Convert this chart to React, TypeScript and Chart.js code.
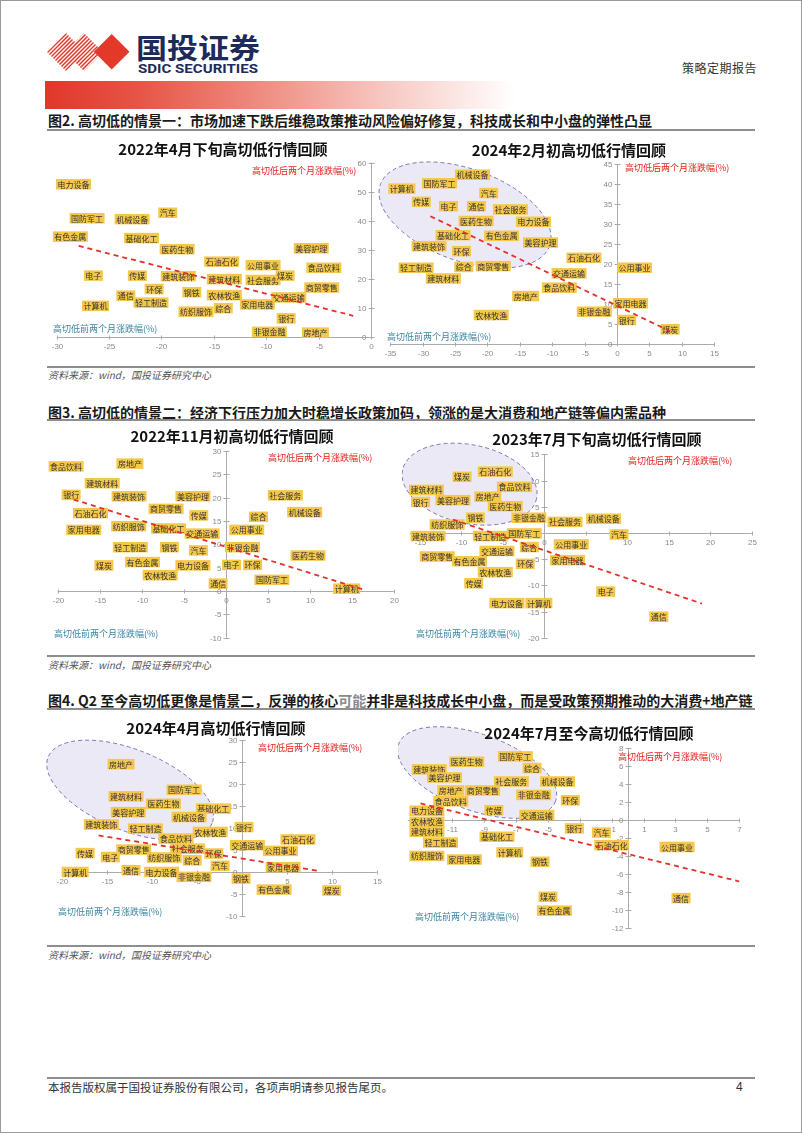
import React, { useEffect, useRef } from 'react';
import { Chart, registerables } from 'chart.js';

Chart.register(...registerables);

// ---------------- Chart 1: 2022年4月下旬 ----------------
const c1Names = ['电力设备','国防军工','机械设备','汽车','有色金属','基础化工','医药生物','美容护理','石油石化','公用事业','食品饮料','电子','传媒','建筑装饰','建筑材料','社会服务','煤炭','商贸零售','环保','钢铁','农林牧渔','通信','交通运输','计算机','轻工制造','纺织服饰','综合','家用电器','银行','非银金融','房地产'];
const c1X = [-28.4,-27.1,-22.8,-19.4,-28.7,-21.9,-18.5,-5.7,-14.25,-10.3,-4.5,-26.5,-22.3,-18.4,-14.0,-10.3,-8.2,-4.7,-20.7,-17.1,-14.0,-23.4,-7.85,-26.3,-21.0,-16.7,-14.1,-10.85,-8.1,-9.7,-5.3];
const c1Y = [52.6,40.9,40.6,42.8,34.6,34.1,30.3,30.6,26.0,24.8,23.9,21.2,21.2,21.0,20.0,19.7,21.2,17.1,16.6,15.5,14.5,14.3,13.7,10.8,11.9,8.8,10.0,11.3,6.5,1.9,1.6];
const c1TrendX = [-27.9, -1.7];
const c1TrendY = [31.4, 7.4];
const c1XTicks = [-30,-25,-20,-15,-10,-5,0];
const c1YTicks = [0,10,20,30,40,50,60];

// ---------------- Chart 2: 2024年2月初 ----------------
const c2Names = ['计算机','国防军工','机械设备','传媒','汽车','电子','通信','社会服务','医药生物','电力设备','基础化工','有色金属','美容护理','建筑装饰','环保','石油石化','综合','商贸零售','公用事业','轻工制造','交通运输','建筑材料','食品饮料','房地产','家用电器','非银金融','银行','农林牧渔','煤炭'];
const c2X = [-33.2,-27.4,-22.3,-30.2,-19.8,-26.0,-21.7,-16.45,-21.75,-12.9,-25.3,-17.8,-11.8,-29.0,-24.0,-5.1,-23.65,-19.1,2.7,-31.0,-7.4,-26.8,-8.9,-14.1,2.1,-3.5,1.5,-19.4,8.2];
const c2Y = [38.9,40.25,42.4,35.6,37.8,34.5,34.5,33.7,30.8,30.6,27.25,27.1,25.4,24.5,23.25,21.6,19.3,19.5,19.1,19.1,17.7,16.4,14.1,12.0,10.2,8.1,6.0,7.25,3.7];
const c2TrendX = [-28.8, 8.7];
const c2TrendY = [32.0, 2.8];
const c2XTicks = [-35,-30,-25,-20,-15,-10,-5,0,5,10,15];
const c2YTicks = [0,5,10,15,20,25,30,35,40,45];

// ---------------- Chart 3: 2022年11月初 ----------------
const c3Names = ['食品饮料','房地产','建筑材料','银行','建筑装饰','美容护理','社会服务','商贸零售','石油石化','传媒','综合','机械设备','家用电器','纺织服饰','基础化工','交通运输','公用事业','轻工制造','钢铁','汽车','非银金融','医药生物','煤炭','有色金属','电力设备','电子','环保','农林牧渔','通信','国防军工','计算机'];
const c3X = [-19.0,-11.4,-14.7,-18.4,-11.5,-3.9,7.1,-7.1,-16.1,-3.2,3.9,9.4,-16.9,-11.55,-6.8,-2.8,2.5,-11.35,-6.7,-3.25,2.0,9.8,-14.5,-9.9,-3.9,0.7,3.2,-7.8,-0.9,5.5,14.4];
const c3Y = [26.7,27.3,23.1,20.6,20.3,20.3,20.5,17.6,16.7,16.2,15.9,16.9,13.1,13.9,13.4,12.3,13.1,9.4,9.4,8.7,9.4,7.6,5.5,6.2,5.5,5.6,5.6,3.4,1.6,2.4,0.5];
const c3TrendX = [-18.1, 16.4];
const c3TrendY = [19.6, 0.3];
const c3XTicks = [-20,-15,-10,-5,0,5,10,15,20];
const c3YTicks = [-10,-5,0,5,10,15,20,25,30];

// ---------------- Chart 4: 2023年7月下旬 ----------------
const c4Names = ['煤炭','石油石化','食品饮料','建筑材料','银行','美容护理','房地产','医药生物','钢铁','非银金融','社会服务','机械设备','纺织服饰','建筑装饰','轻工制造','国防军工','汽车','综合','公用事业','交通运输','商贸零售','有色金属','环保','家用电器','农林牧渔','传媒','电子','电力设备','计算机','通信'];
const c4X = [-9.9,-5.9,-3.6,-14.2,-14.9,-11.0,-6.8,-4.7,-8.3,-1.85,2.5,7.15,-11.7,-14.0,-6.5,-2.4,9.0,-1.8,3.25,-5.7,-12.9,-9.0,-2.3,2.8,-5.9,-8.5,7.4,-4.5,-0.65,13.8];
const c4Y = [10.7,11.7,8.8,8.2,5.9,6.25,6.9,5.1,2.9,2.9,2.1,2.7,1.6,-0.6,-0.6,-0.1,-0.3,-2.7,-2.2,-3.45,-4.5,-5.4,-5.9,-5.2,-7.5,-9.6,-11.2,-13.4,-13.4,-16.0];
const c4TrendX = [-11.0, 19.0];
const c4TrendY = [2.55, -13.5];
const c4XTicks = [-15,-10,-5,0,5,10,15,20,25];
const c4YTicks = [-20,-15,-10,-5,0,5,10,15];

// ---------------- Chart 5: 2024年4月 ----------------
const c5Names = ['房地产','国防军工','建筑材料','医药生物','基础化工','美容护理','机械设备','建筑装饰','轻工制造','银行','农林牧渔','食品饮料','石油石化','交通运输','公用事业','商贸零售','社会服务','环保','传媒','电子','纺织服饰','综合','汽车','家用电器','计算机','通信','电力设备','非银金融','钢铁','有色金属','煤炭'];
const c5X = [-13.4,-6.4,-12.85,-8.7,-3.15,-12.6,-5.85,-15.6,-10.7,0.26,-3.5,-7.3,6.25,0.63,4.3,-12.0,-6.0,-3.1,-17.4,-14.6,-8.6,-5.5,-2.4,4.6,-18.5,-12.3,-8.9,-5.3,-0.07,3.6,10.0];
const c5Y = [24.5,18.7,17.2,15.5,14.4,13.6,12.5,10.8,9.85,10.2,9.1,7.6,7.4,6.1,4.8,5.1,5.3,4.2,4.3,3.4,3.3,2.65,1.4,1.1,0,0.4,0,-1.1,-1.5,-4.0,-4.2];
const c5TrendX = [-15.9, 8.7];
const c5TrendY = [8.3, 0.2];
const c5XTicks = [-20,-15,-10,-5,0,5,10,15];
const c5YTicks = [-10,-5,0,5,10,15,20,25,30];

// ---------------- Chart 6: 2024年7月至今 ----------------
const c6Names = ['国防军工','医药生物','综合','建筑装饰','美容护理','社会服务','机械设备','房地产','商贸零售','非银金融','食品饮料','环保','传媒','电力设备','交通运输','农林牧渔','银行','汽车','建筑材料','基础化工','轻工制造','石油石化','公用事业','纺织服饰','家用电器','计算机','钢铁','煤炭','有色金属','通信'];
const c6X = [-7.05,-10.1,-6.0,-12.45,-11.5,-7.3,-4.4,-11.1,-9.1,-5.9,-11.1,-3.6,-8.4,-12.6,-5.7,-12.6,-3.35,-1.65,-12.6,-8.2,-11.75,-1.0,3.1,-12.6,-10.25,-7.4,-5.5,-5.0,-4.6,3.35];
const c6Y = [7.1,6.5,5.8,5.65,4.75,4.3,4.3,3.3,3.3,2.8,2.1,2.2,1.1,1.04,0.56,-0.19,-0.93,-1.4,-1.3,-1.86,-2.5,-2.8,-3.0,-4.0,-4.4,-3.6,-4.65,-8.55,-10.1,-8.7];
const c6TrendX = [-13.0, 7.15];
const c6TrendY = [1.86, -6.9];
const c6XTicks = [-13,-11,-9,-7,-5,-3,-1,1,3,5,7];
const c6YTicks = [-12,-10,-8,-6,-4,-2,0,2,4,6,8];

const RED_TITLE = '高切低后两个月涨跌幅(%)';
const TEAL_TITLE = '高切低前两个月涨跌幅(%)';
const CJK = '"Noto Sans CJK SC", "Noto Sans", sans-serif';

const panels: any[] = [
  {
    title: '2022年4月下旬高切低行情回顾', titleX: 223, titleY: 149,
    box: { l: 40, t: 137, w: 338, h: 222 }, plot: { l: 56.7, r: 371, t: 162.7, b: 337.3 },
    xr: [-30, 0], yr: [0, 60],
    names: c1Names, xs: c1X, ys: c1Y, tx: c1TrendX, ty: c1TrendY, xt: c1XTicks, yt: c1YTicks,
    red: { x: 252, y: 171 }, teal: { x: 53, y: 329 },
  },
  {
    title: '2024年2月初高切低行情回顾', titleX: 569, titleY: 150,
    box: { l: 376, t: 137, w: 356, h: 222 }, plot: { l: 390.2, r: 714.2, t: 164.3, b: 344 },
    xr: [-35, 15], yr: [0, 45],
    names: c2Names, xs: c2X, ys: c2Y, tx: c2TrendX, ty: c2TrendY, xt: c2XTicks, yt: c2YTicks,
    red: { x: 625, y: 168 }, teal: { x: 387, y: 337 },
    ellipse: { x: -23.45, y: 32.3, rx: 90, ry: 46, rot: 20 },
  },
  {
    title: '2022年11月初高切低行情回顾', titleX: 232, titleY: 436,
    box: { l: 40, t: 427, w: 362, h: 225 }, plot: { l: 57.7, r: 393.7, t: 451, b: 637.7 },
    xr: [-20, 20], yr: [-10, 30],
    names: c3Names, xs: c3X, ys: c3Y, tx: c3TrendX, ty: c3TrendY, xt: c3XTicks, yt: c3YTicks,
    red: { x: 268, y: 458 }, teal: { x: 54, y: 634 },
  },
  {
    title: '2023年7月下旬高切低行情回顾', titleX: 597, titleY: 439,
    box: { l: 402, t: 427, w: 358, h: 225 }, plot: { l: 409.8, r: 751.8, t: 454.3, b: 637.7 },
    xr: [-16.2, 25], yr: [-20, 15],
    names: c4Names, xs: c4X, ys: c4Y, tx: c4TrendX, ty: c4TrendY, xt: c4XTicks, yt: c4YTicks,
    red: { x: 628, y: 461 }, teal: { x: 416, y: 634 },
    ellipse: { x: -9.0, y: 9.3, rx: 68.5, ry: 39.3, rot: 12 },
  },
  {
    title: '2024年4月高切低行情回顾', titleX: 216, titleY: 728,
    box: { l: 40, t: 717, w: 362, h: 225 }, plot: { l: 61.7, r: 376.7, t: 740, b: 916 },
    xr: [-20, 15], yr: [-10, 30],
    names: c5Names, xs: c5X, ys: c5Y, tx: c5TrendX, ty: c5TrendY, xt: c5XTicks, yt: c5YTicks,
    red: { x: 258, y: 748 }, teal: { x: 58, y: 912 },
    ellipse: { x: -12.4, y: 18.6, rx: 88.4, ry: 40.4, rot: 22 },
  },
  {
    title: '2024年7月至今高切低行情回顾', titleX: 589, titleY: 733,
    box: { l: 398, t: 717, w: 362, h: 225 }, plot: { l: 407.8, r: 739.2, t: 748.3, b: 927.7 },
    xr: [-13.8, 7], yr: [-12, 8],
    names: c6Names, xs: c6X, ys: c6Y, tx: c6TrendX, ty: c6TrendY, xt: c6XTicks, yt: c6YTicks,
    red: { x: 618, y: 757 }, teal: { x: 415, y: 917 },
    ellipse: { x: -9.45, y: 5.3, rx: 83.5, ry: 38.1, rot: 20 },
  },
];

function Panel({ cfg }: { cfg: any }) {
  const ref = useRef<HTMLCanvasElement>(null);
  useEffect(() => {
    const c = cfg;
    const pad = {
      left: c.plot.l - c.box.l,
      right: c.box.l + c.box.w - c.plot.r,
      top: c.plot.t - c.box.t,
      bottom: c.box.t + c.box.h - c.plot.b,
    };
    const deco = {
      id: 'deco',
      beforeDatasetsDraw(chart: any) {
        const ctx = chart.ctx;
        const sx = chart.scales.x;
        const sy = chart.scales.y;
        ctx.save();
        if (c.ellipse) {
          const e = c.ellipse;
          const cx = sx.getPixelForValue(e.x);
          const cy = sy.getPixelForValue(e.y);
          ctx.beginPath();
          ctx.ellipse(cx, cy, e.rx, e.ry, (e.rot * Math.PI) / 180, 0, Math.PI * 2);
          ctx.fillStyle = 'rgba(222,218,240,0.6)';
          ctx.fill();
          ctx.setLineDash([4, 3]);
          ctx.strokeStyle = '#7C74B0';
          ctx.lineWidth = 1;
          ctx.stroke();
          ctx.setLineDash([]);
        }
        const x0 = Math.round(sx.getPixelForValue(0)) + 0.5;
        const y0 = Math.round(sy.getPixelForValue(0)) + 0.5;
        ctx.strokeStyle = '#ABABAB';
        ctx.lineWidth = 1;
        ctx.beginPath();
        ctx.moveTo(sx.left, y0);
        ctx.lineTo(sx.right, y0);
        ctx.moveTo(x0, sy.top);
        ctx.lineTo(x0, sy.bottom);
        ctx.stroke();
        ctx.font = '8px "Liberation Sans", Arial, sans-serif';
        ctx.fillStyle = '#8A8A8A';
        ctx.textAlign = 'center';
        ctx.textBaseline = 'middle';
        c.xt.forEach((v: number) => {
          const px = Math.round(sx.getPixelForValue(v)) + 0.5;
          ctx.beginPath();
          ctx.moveTo(px, y0 - 2);
          ctx.lineTo(px, y0 + 2);
          ctx.stroke();
          ctx.fillText(String(v), px, y0 + 9);
        });
        ctx.textAlign = 'right';
        c.yt.forEach((v: number) => {
          const py = Math.round(sy.getPixelForValue(v)) + 0.5;
          ctx.beginPath();
          ctx.moveTo(x0 - 3, py);
          ctx.lineTo(x0 + 3, py);
          ctx.stroke();
          ctx.fillText(String(v), x0 - 5, py);
        });
        ctx.font = '9px ' + CJK;
        ctx.textAlign = 'left';
        ctx.fillStyle = '#E2231A';
        ctx.fillText(RED_TITLE, c.red.x - c.box.l, c.red.y - c.box.t);
        ctx.fillStyle = '#3A86A3';
        ctx.fillText(TEAL_TITLE, c.teal.x - c.box.l, c.teal.y - c.box.t);
        // data labels
        const meta = chart.getDatasetMeta(0);
        ctx.font = '8px ' + CJK;
        ctx.textAlign = 'center';
        meta.data.forEach((el: any, i: number) => {
          const name = c.names[i];
          const w = ctx.measureText(name).width + 3;
          const h = 10.5;
          ctx.fillStyle = '#F5C84B';
          ctx.fillRect(el.x - w / 2, el.y - h / 2, w, h);
          ctx.fillStyle = '#333333';
          ctx.fillText(name, el.x, el.y + 0.5);
        });
        ctx.restore();
      },
    };
    const chart = new Chart(ref.current as HTMLCanvasElement, {
      type: 'scatter',
      data: {
        datasets: [
          {
            data: c.xs.map((x: number, i: number) => ({ x, y: c.ys[i] })),
            pointRadius: 0,
            pointHoverRadius: 0,
            backgroundColor: 'rgba(0,0,0,0)',
            borderColor: 'rgba(0,0,0,0)',
          },
          {
            data: c.tx.map((x: number, i: number) => ({ x, y: c.ty[i] })),
            showLine: true,
            pointRadius: 0,
            borderColor: '#E5302A',
            borderWidth: 1.8,
            borderDash: [5, 4],
            fill: false,
          },
        ],
      } as any,
      options: {
        animation: false,
        responsive: true,
        maintainAspectRatio: false,
        layout: { padding: pad },
        plugins: { legend: { display: false }, title: { display: false }, tooltip: { enabled: false } },
        events: [],
        scales: {
          x: { type: 'linear', min: c.xr[0], max: c.xr[1], display: false },
          y: { type: 'linear', min: c.yr[0], max: c.yr[1], display: false },
        },
      } as any,
      plugins: [deco],
    });
    return () => chart.destroy();
  }, [cfg]);
  return (
    <>
      <div style={{ position: 'absolute', left: cfg.box.l, top: cfg.box.t, width: cfg.box.w, height: cfg.box.h }}>
        <canvas ref={ref} />
      </div>
      <div
        style={{
          position: 'absolute', left: cfg.titleX - 160, width: 320, top: cfg.titleY - 10, height: 20,
          textAlign: 'center', fontFamily: CJK, fontWeight: 700, fontSize: 15, lineHeight: '20px', color: '#111',
          whiteSpace: 'nowrap', pointerEvents: 'none',
        }}
      >
        {cfg.title}
      </div>
    </>
  );
}

const abs = (l: number, t: number, extra: any = {}) => ({ position: 'absolute' as const, left: l, top: t, ...extra });

function Rule({ top, w = 2 }: { top: number; w?: number }) {
  return <div style={abs(47, top, { width: 708, height: w, background: '#8E8E8E' })} />;
}

function Caption({ top, children }: { top: number; children: any }) {
  return (
    <div style={abs(48, top, { fontFamily: CJK, fontSize: 14, fontWeight: 600, lineHeight: '18px', color: '#1a1a1a', whiteSpace: 'nowrap' })}>
      {children}
    </div>
  );
}

function Source({ top }: { top: number }) {
  return (
    <div style={abs(48, top, { fontFamily: CJK, fontSize: 10, fontStyle: 'italic', lineHeight: '14px', color: '#555', whiteSpace: 'nowrap' })}>
      资料来源：wind，国投证券研究中心
    </div>
  );
}

function Logo() {
  const stripes: any[] = [];
  for (let c = -44; c <= 70; c += 4) {
    stripes.push(<line key={c} x1={c} y1={44} x2={c + 44} y2={0} stroke="#E2392B" strokeWidth={1.5} />);
  }
  return (
    <svg style={abs(44, 28)} width={230} height={48} viewBox="0 0 230 48">
      <defs>
        <clipPath id="stripeClip">
          <polygon points="3,24 22,5 41,24 22,43" />
          <polygon points="21,24 40,5 59,24 40,43" />
        </clipPath>
      </defs>
      <g clipPath="url(#stripeClip)">{stripes}</g>
      <polygon points="67.7,6 85.5,23.8 67.7,41.6 49.9,23.8" fill="#E2392B" />
      <text x={92} y={31} fontFamily={CJK} fontWeight={700} fontSize={28} fill="#1D2B5A" textLength={124} lengthAdjust="spacingAndGlyphs">
        国投证券
      </text>
      <text x={94} y={45} fontFamily='"Roboto", "Liberation Sans", sans-serif' fontWeight={700} fontSize={13} fill="#1D2B5A" textLength={120} lengthAdjust="spacingAndGlyphs">
        SDIC SECURITIES
      </text>
    </svg>
  );
}

export default function App() {
  return (
    <div style={{ position: 'absolute', left: 0, top: 0, width: 802, height: 1133, background: '#fff', overflow: 'hidden' }}>
      <Logo />
      <div style={abs(682, 60, { fontFamily: CJK, fontSize: 12, lineHeight: '16px', color: '#333', letterSpacing: 0.5 })}>策略定期报告</div>
      <div
        style={abs(45, 81, {
          width: 470, height: 28,
          background: 'linear-gradient(90deg, #E0372A 0%, #E65546 20%, #EE8A7E 45%, #F6C3BC 70%, #FFFFFF 100%)',
        })}
      />
      <Caption top={111}>图2. 高切低的情景一：市场加速下跌后维稳政策推动风险偏好修复，科技成长和中小盘的弹性凸显</Caption>
      <Rule top={129} />
      <Rule top={366} />
      <Source top={368} />
      <Caption top={403}>图3. 高切低的情景二：经济下行压力加大时稳增长政策加码，领涨的是大消费和地产链等偏内需品种</Caption>
      <Rule top={419} />
      <Rule top={655} />
      <Source top={658} />
      <Caption top={691}>
        图4. Q2 至今高切低更像是情景二，反弹的核心<span style={{ color: '#8a8a8a' }}>可能</span>并非是科技成长中小盘，而是受政策预期推动的大消费+地产链
      </Caption>
      <Rule top={708} />
      <Rule top={945} />
      <Source top={948} />
      {panels.map((p, i) => (
        <Panel key={i} cfg={p} />
      ))}
      <Rule top={1077} />
      <div style={abs(48, 1080, { fontFamily: CJK, fontSize: 11.5, lineHeight: '14px', color: '#333', whiteSpace: 'nowrap' })}>
        本报告版权属于国投证券股份有限公司，各项声明请参见报告尾页。
      </div>
      <div style={abs(736, 1079, { fontFamily: '"Liberation Sans", sans-serif', fontSize: 12, lineHeight: '16px', color: '#333' })}>4</div>
      <div style={{ position: 'absolute', left: 0, top: 0, width: 802, height: 1133, boxSizing: 'border-box', border: '1px solid #9A9A9A', pointerEvents: 'none' }} />
    </div>
  );
}
